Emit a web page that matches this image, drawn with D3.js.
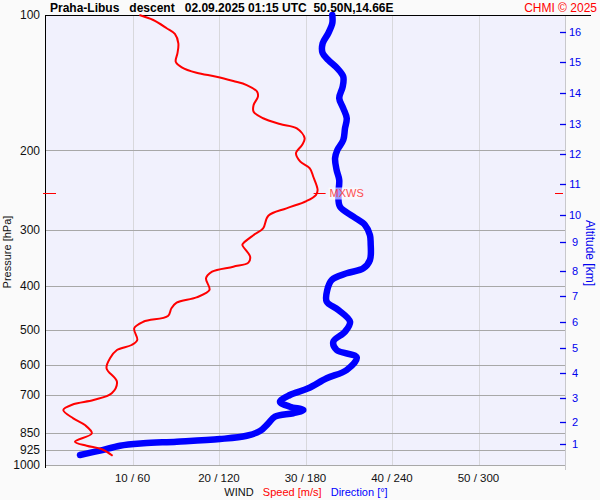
<!DOCTYPE html>
<html><head><meta charset="utf-8">
<script src="https://cdn.jsdelivr.net/npm/d3@7"></script>
<style>
body{margin:0;background:#fafafa;}
svg{display:block;font-family:"Liberation Sans",Arial,sans-serif;}
text{white-space:pre;}
</style></head><body>
<svg id="c" width="600" height="500"></svg>
<script>
// ---- data ----
const titleText = "Praha-Libus   descent   02.09.2025 01:15 UTC  50.50N,14.66E";
const creditText = "CHMI \u00a9 2025";
const pressureTicks = [100,200,300,400,500,600,700,850,925,1000];
const speedTicks = [10,20,30,40,50];
const dirTickLabels = [60,120,180,240,300];
const altKm = [1,2,3,4,5,6,7,8,9,10,11,12,13,14,15,16];
const altP  = [898,802,710,625,550,481,421,370,320,278,238,204,175,149,127.5,109];
const maxWindP = 249;
// wind speed profile (pressure hPa, speed m/s)
const speedP = [100,102.6,107.0,110.2,115.6,121.6,127.0,130.7,134.4,137.1,140.2,143.1,148.0,151.9,158.5,164.0,169.6,174.7,178.6,187.9,194.5,202.9,211.8,219.1,228.8,244.8,251.2,259.1,268.9,279.3,297.9,308.3,321.6,324.4,344.4,355.1,362.5,371.9,384.7,408.4,424.0,435.8,448.5,466.6,480.4,496.8,527.5,541.2,555.3,579.4,609.7,653.0,693.0,717.1,733.0,754.7,787.5,815.1,850.6,887.6,906.0,922.8,953.5];
const speedV = [10.8,12.4,13.95,14.9,15.3,15.2,15.0,15.7,17.4,19.7,21.65,23.2,24.4,24.5,24.0,24.0,25.1,27.05,29.0,29.9,29.6,28.9,29.4,30.5,30.9,31.4,31.2,30.1,27.8,25.7,25.1,24.0,22.8,22.7,23.6,23.4,21.65,19.2,18.5,18.9,17.4,15.1,14.5,14.1,11.25,10.2,10.55,9.9,8.2,7.4,7.0,8.2,7.6,5.5,3.15,2.0,3.15,4.5,5.3,3.35,4.7,6.45,7.7];
// wind direction profile (pressure hPa, direction deg)
const dirP = [100,104.3,109.8,115.6,121.6,125.9,131.4,137.1,144.3,153.1,161.2,169.6,178.6,189.6,199.5,208.2,221.1,232.6,251.2,266.7,280.7,292.9,308.3,321.6,350.3,365.5,375.0,388.0,408.4,433.6,452.4,480.4,505.5,532.1,555.3,576.4,615.0,641.6,675.4,699.0,723.3,742.0,754.7,767.4,781.0,808.0,840.5,861.1,875.6,887.6,895.0,906.0,929.4,950.1];
const dirV = [198.6,198.6,195.8,191.9,191.9,195.8,202.1,206.2,205.8,203.4,206.2,208.6,207.4,206.2,202.1,200.5,201.6,203.4,202.8,203.9,213.2,221.3,224.7,225.2,224.7,220.1,208.6,198.2,195.1,194.7,202.8,210.9,207.4,199.3,201.6,215.5,208.6,194.7,181.9,169.2,162.3,169.2,178.5,171.5,158.8,154.2,148.4,139.2,120.7,90.7,67.5,51.3,37.5,23.6];

// ---- drawing ----
const svg = d3.select("#c");
const L = 46, R = 565, T = 15, B = 465;
const y = d3.scaleLog().domain([100,1000]).range([T,B]);
const xs = d3.scaleLinear().domain([0,60]).range([L,R]);
const xd = d3.scaleLinear().domain([0,360]).range([L,R]);

svg.append("rect").attr("width",600).attr("height",500).attr("fill","#fafafa");
svg.append("rect").attr("x",L).attr("y",T).attr("width",R-L).attr("height",B-T).attr("fill","#f1f1fd");

// vertical grid
svg.append("g").selectAll("line").data(speedTicks).join("line")
  .attr("x1",d=>Math.round(xs(d))+0.5).attr("x2",d=>Math.round(xs(d))+0.5)
  .attr("y1",T).attr("y2",B).attr("stroke","#d8d8dc").attr("stroke-width",1);
svg.append("line").attr("x1",R+0.5).attr("x2",R+0.5).attr("y1",T).attr("y2",470)
  .attr("stroke","#c8c8cc");

// horizontal grid
svg.append("g").selectAll("line").data(pressureTicks.slice(1)).join("line")
  .attr("x1",L).attr("x2",R)
  .attr("y1",d=>Math.round(y(d))+0.5).attr("y2",d=>Math.round(y(d))+0.5)
  .attr("stroke","#a8a8a8").attr("stroke-width",1);

// left axis
svg.append("line").attr("x1",L-0.5).attr("x2",L-0.5).attr("y1",T).attr("y2",468).attr("stroke","#000");
// top line
svg.append("line").attr("x1",L-1).attr("x2",591).attr("y1",T+0.5).attr("y2",T+0.5).attr("stroke","#000");

// pressure labels
svg.append("g").selectAll("text").data(pressureTicks).join("text")
  .attr("x",40).attr("y",d=>y(d)).attr("dy","0.35em").attr("text-anchor","end")
  .attr("font-size",12).attr("fill","#111").text(d=>d);
svg.append("text").attr("transform","translate(11,252) rotate(-90)")
  .attr("text-anchor","middle").attr("font-size",11).attr("fill","#111").text("Pressure [hPa]");

// altitude ticks
const ga = svg.append("g");
ga.selectAll("line").data(altP).join("line")
  .attr("x1",560).attr("x2",566).attr("y1",d=>Math.round(y(d))+0.5).attr("y2",d=>Math.round(y(d))+0.5)
  .attr("stroke","#0000ee").attr("stroke-width",1.3);
ga.selectAll("text").data(altKm).join("text")
  .attr("x",575).attr("y",(d,i)=>y(altP[i])).attr("dy","0.35em").attr("text-anchor","middle")
  .attr("font-size",11).attr("fill","#0000ee").text(d=>d);
svg.append("text").attr("transform","translate(586,253) rotate(90)")
  .attr("text-anchor","middle").attr("font-size",12).attr("fill","#0000ee").text("Altitude [km]");

// x tick labels
svg.append("g").selectAll("text").data(speedTicks).join("text")
  .attr("x",d=>xs(d)).attr("y",482).attr("text-anchor","middle")
  .attr("font-size",11.5).attr("fill","#111").text((d,i)=>d+" / "+dirTickLabels[i]);
const lg = svg.append("text").attr("x",306).attr("y",496).attr("text-anchor","middle").attr("font-size",11);
lg.append("tspan").attr("fill","#111").text("WIND   ");
lg.append("tspan").attr("fill","#ff0000").text("Speed [m/s]   ");
lg.append("tspan").attr("fill","#0000ff").text("Direction [\u00b0]");

// max wind marks
const ym = Math.round(y(maxWindP))+0.5;
svg.append("line").attr("x1",43).attr("x2",56).attr("y1",ym).attr("y2",ym).attr("stroke","#ff0000");
svg.append("line").attr("x1",555).attr("x2",563).attr("y1",ym).attr("y2",ym).attr("stroke","#ff0000");

// direction line
const lineD = d3.line().x((d,i)=>xd(dirV[i])).y(d=>y(d)).curve(d3.curveCatmullRom);
svg.append("path").attr("d",lineD(dirP)).attr("fill","none").attr("stroke","#0000ff")
  .attr("stroke-width",6.5).attr("stroke-linejoin","round").attr("stroke-linecap","round");
// speed line
const lineS = d3.line().x((d,i)=>xs(speedV[i])).y(d=>y(d)).curve(d3.curveCatmullRom);
svg.append("path").attr("d",lineS(speedP)).attr("fill","none").attr("stroke","#ff0000")
  .attr("stroke-width",2).attr("stroke-linejoin","round");

// MXWS label
const maxIdx = speedV.indexOf(d3.max(speedV));
const mx = xs(speedV[maxIdx]);
svg.append("line").attr("x1",mx-4).attr("x2",mx+8).attr("y1",ym).attr("y2",ym).attr("stroke","#ff0000");
svg.append("rect").attr("x",mx+11).attr("y",ym-6).attr("width",31).attr("height",12)
  .attr("fill","#ffffff").attr("opacity",0.6);
svg.append("text").attr("x",mx+12).attr("y",ym).attr("dy","0.35em").attr("font-size",11)
  .attr("fill","#ff3030").attr("opacity",0.85).text("MXWS");

// title
svg.append("text").attr("x",50).attr("y",12).attr("font-size",12).attr("font-weight","bold")
  .attr("fill","#000").text(titleText);
svg.append("text").attr("x",597).attr("y",12).attr("font-size",12).attr("text-anchor","end")
  .attr("fill","#ff0000").text(creditText);
</script>
</body></html>
